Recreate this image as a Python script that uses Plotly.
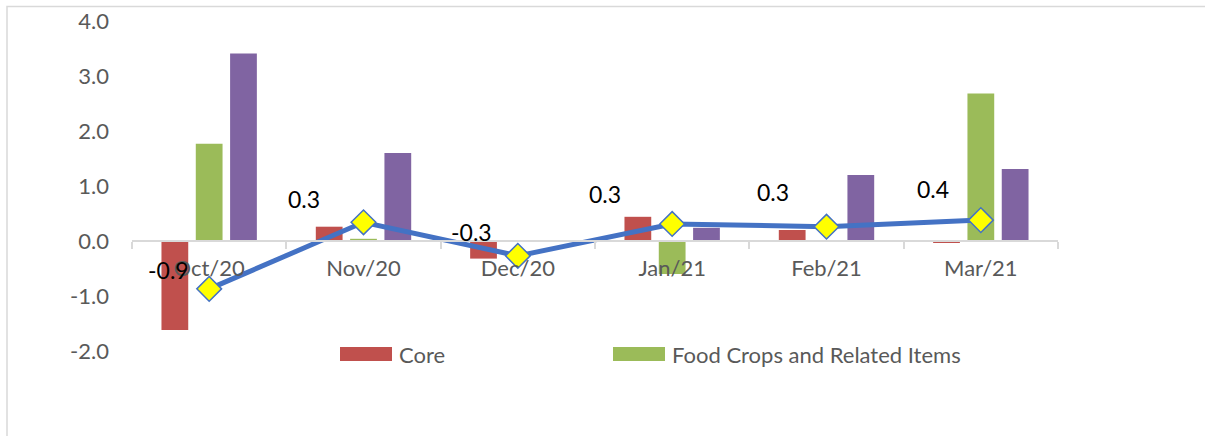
import plotly.graph_objects as go

# ---- data ----
categories = ["Oct/20", "Nov/20", "Dec/20", "Jan/21", "Feb/21", "Mar/21"]
core = [-1.62, 0.26, -0.32, 0.44, 0.20, -0.03]
food_crops = [1.77, 0.04, 0.0, -0.60, 0.0, 2.68]
other_items = [3.41, 1.60, 0.0, 0.24, 1.20, 1.31]
headline = [-0.87, 0.34, -0.27, 0.31, 0.26, 0.38]
series_names = ["Core", "Food Crops and Related Items", "Other Items", "Headline"]
y_ticks = [-2, -1, 0, 1, 2, 3, 4]

# ---- styling ----
FONT = "Lato"
W, H = 1205, 436
L, R, T, B = 132, 147, 21, 85
plot_w, plot_h = W - L - R, H - T - B
y_range = [-2, 4]
label_offsets = [(-41, 19), (-60, 23), (-46, 24), (-67, 30), (-54, 35), (-48, 31)]


def px_to_paper_x(px):
    return (px - L) / plot_w


def px_to_paper_y(py):
    return (H - B - py) / plot_h


fig = go.Figure()
colors = ["#C0504D", "#9BBB59", "#8064A2"]
for name, vals, c in zip(series_names[:3], [core, food_crops, other_items], colors):
    fig.add_trace(go.Bar(x=categories, y=vals, name=name, marker_color=c,
                         marker_line_width=0, showlegend=False))

fig.add_trace(go.Scatter(
    x=categories, y=headline, name=series_names[3], mode="lines+markers",
    line=dict(color="#4472C4", width=5),
    marker=dict(symbol="diamond", size=19, color="#FFFF00",
                line=dict(color="#4472C4", width=1.5)),
    showlegend=False))

for cat, v, (dx, dy) in zip(categories, headline, label_offsets):
    fig.add_annotation(x=cat, y=v, text=f"{v:.1f}", showarrow=False,
                       xshift=dx, yshift=dy,
                       font=dict(family=FONT, size=23, color="#000000"))

zero_pos = (0 - y_range[0]) / (y_range[1] - y_range[0])

fig.update_layout(
    width=W, height=H,
    margin=dict(l=L, r=R, t=T, b=B, autoexpand=False),
    paper_bgcolor="white", plot_bgcolor="white",
    barmode="group", bargap=0.333, bargroupgap=0.22,
    showlegend=False,
    font=dict(family=FONT, size=22, color="#595959"),
    xaxis=dict(type="category", range=[-0.5, 5.5], anchor="free", position=zero_pos,
               automargin=False,
               showline=True, linecolor="#D9D9D9", linewidth=1.5,
               ticks="outside", tickson="boundaries", ticklen=7, tickcolor="#D9D9D9",
               tickwidth=1.5, showgrid=False, zeroline=False, ticklabelstandoff=8,
               tickfont=dict(family=FONT, size=22, color="#595959")),
    yaxis=dict(range=y_range, tickvals=y_ticks,
               ticktext=[f"{v:.1f}" for v in y_ticks], showgrid=False,
               automargin=False,
               zeroline=False, showline=False, ticks="", ticklabelstandoff=22,
               tickfont=dict(family=FONT, size=22, color="#595959")),
)

# chart border (cropped)
fig.add_shape(type="rect", xref="paper", yref="paper",
              x0=px_to_paper_x(7), x1=px_to_paper_x(W + 20),
              y0=px_to_paper_y(H + 20), y1=px_to_paper_y(6.5),
              line=dict(color="#D9D9D9", width=1.5), fillcolor="rgba(0,0,0,0)", layer="below")

# custom legend (visible part)
legend_items = [(series_names[0], colors[0], 340), (series_names[1], colors[1], 613)]
for name, c, x0 in legend_items:
    fig.add_shape(type="rect", xref="paper", yref="paper",
                  x0=px_to_paper_x(x0), x1=px_to_paper_x(x0 + 52),
                  y0=px_to_paper_y(361), y1=px_to_paper_y(347),
                  line=dict(width=0), fillcolor=c)
    fig.add_annotation(xref="paper", yref="paper", x=px_to_paper_x(x0 + 57),
                       y=px_to_paper_y(354), xanchor="left", yanchor="middle",
                       text=name, showarrow=False,
                       font=dict(family=FONT, size=22, color="#595959"))

fig.write_html("out.html", config={"displayModeBar": False},
               post_script="document.body.style.margin='0';")
